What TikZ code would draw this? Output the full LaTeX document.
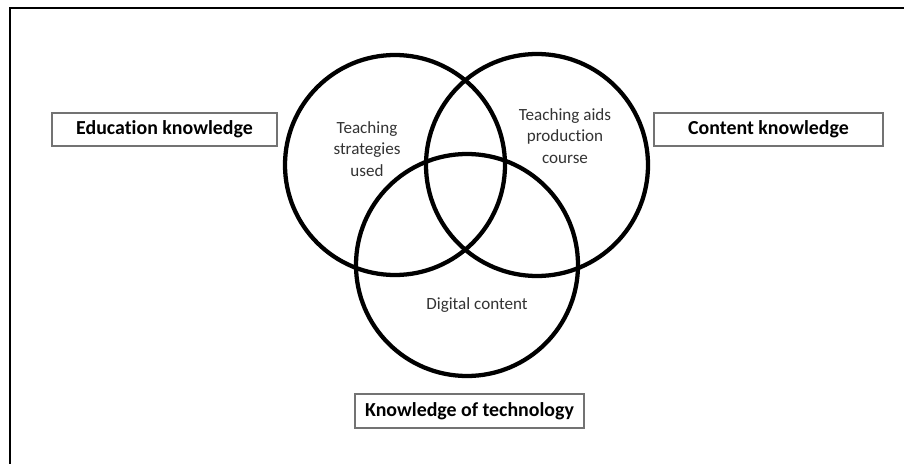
\documentclass[tikz,border=0pt]{standalone}
\usepackage{fontspec}
\setmainfont{Carlito}[RawFeature=-liga]
\begin{document}
\begin{tikzpicture}[x=0.75pt,y=-0.75pt,
  ring/.style={line width=3.2pt,black},
  labelbox/.style={draw=black!55,line width=0.9pt,fill=white,font=\bfseries\fontsize{14.9}{17}\selectfont,inner sep=0pt,anchor=center},
  inner/.style={font=\fontsize{12.8}{16}\selectfont,text=black!80,align=center}]
\useasboundingbox (0,0) rectangle (904,464);
\fill[white] (0,0) rectangle (904,464);
\coordinate (bl) at (10,464);
\coordinate (tl) at (10,8);
\coordinate (tr) at (904,8);
\draw[line width=2.2pt] (bl) -- (tl) -- (tr);
\draw[ring] (395,165) circle (110);
\draw[ring] (537,165) circle (111);
\draw[ring] (467,265) circle (111);
\node[labelbox,minimum width=225*0.75pt,minimum height=33*0.75pt] (edu) at (164.5,129.5) {Education knowledge};
\node[labelbox,minimum width=229*0.75pt,minimum height=33*0.75pt] (con) at (768.5,129.5) {Content knowledge};
\node[labelbox,minimum width=229*0.75pt,minimum height=34*0.75pt] (tech) at (469.5,411) {Knowledge of technology};
\node[inner] (ts) at (367,149) {Teaching\\strategies\\used};
\node[inner] (ta) at (565,136) {Teaching aids\\production\\course};
\node[inner] (dc) at (477,305) {Digital content};
\end{tikzpicture}
\end{document}
